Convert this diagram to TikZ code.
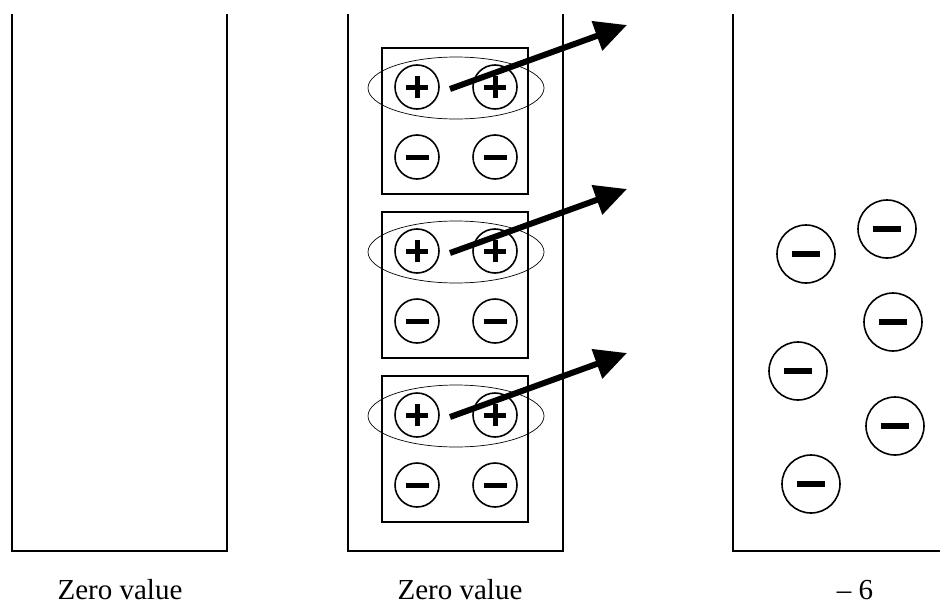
\documentclass[tikz,border=0pt]{standalone}
\usepackage{fontspec}
\setmainfont{Liberation Serif}
\usetikzlibrary{arrows.meta,shapes.geometric}

\begin{document}
\begin{tikzpicture}[
  x=1pt, y=-1pt,
  wall/.style={line width=2pt},
  pairbox/.style={draw, line width=1.8pt, minimum width=146pt, minimum height=146pt, inner sep=0pt},
  pairring/.style={draw, ellipse, line width=0.7pt, minimum width=176pt, minimum height=62pt, inner sep=0pt},
  charge/.style={draw, circle, line width=1.6pt, minimum size=44pt, inner sep=0pt},
  pcharge/.style={charge, path picture={
      \draw[line width=5pt] ([xshift=-11pt]path picture bounding box.center) -- ([xshift=11pt]path picture bounding box.center);
      \draw[line width=5pt] ([yshift=-11pt]path picture bounding box.center) -- ([yshift=11pt]path picture bounding box.center);}},
  ncharge/.style={charge, path picture={
      \draw[line width=5pt] ([xshift=-11.5pt]path picture bounding box.center) -- ([xshift=11.5pt]path picture bounding box.center);}},
  bigncharge/.style={ncharge, minimum size=58pt, path picture={
      \draw[line width=6pt] ([xshift=-14pt]path picture bounding box.center) -- ([xshift=14pt]path picture bounding box.center);}},
  lbl/.style={anchor=base, font=\fontsize{29}{34}\selectfont},
  arr/.style={line width=6pt, -{Triangle[length=32pt,width=30pt]}},
]
\useasboundingbox (0,0) rectangle (940,605);

% three containers, open at the top
\draw[wall] (12,14) -- (12,551) -- (227,551) -- (227,14);
\draw[wall] (348,14) -- (348,551) -- (563,551) -- (563,14);
\draw[wall] (733,14) -- (733,551) -- (940,551);

% middle container: three neutral pairs, one + of each pushed out
\foreach \i/\t in {1/48, 2/212, 3/376} {
  \node[pairbox] (box\i) at (455,\t+73) {};
  \node[pairring] (ring\i) at (456,\t+40) {};
  \node[pcharge] (pa\i) at (417,\t+39) {};
  \node[pcharge] (pb\i) at (495,\t+39) {};
  \node[ncharge] (na\i) at (417,\t+109) {};
  \node[ncharge] (nb\i) at (495,\t+109) {};
  \coordinate (from\i) at (450,\t+41);
  \coordinate (to\i) at (627,\t-23);
  \draw[arr] (from\i) -- (to\i);
}

% right container: six remaining negative charges
\node[bigncharge] (m1) at (806,254) {};
\node[bigncharge] (m2) at (887,229) {};
\node[bigncharge] (m3) at (893,322) {};
\node[bigncharge] (m4) at (798,371) {};
\node[bigncharge] (m5) at (895,426) {};
\node[bigncharge] (m6) at (811,484) {};

% values
\node[lbl] (v1) at (120,599) {Zero value};
\node[lbl] (v2) at (460,599) {Zero value};
\node[lbl] (v3) at (855,599) {– 6};
\end{tikzpicture}
\end{document}
